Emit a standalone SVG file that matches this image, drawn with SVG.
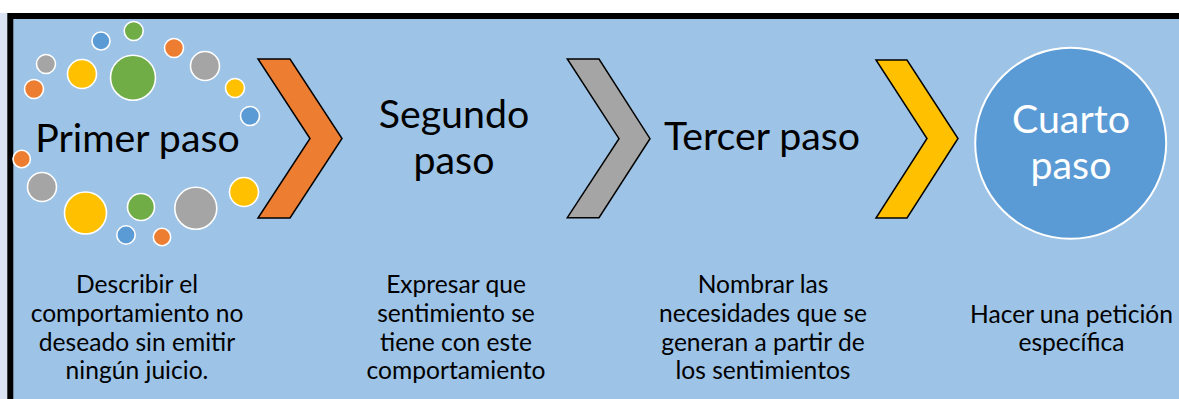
<svg xmlns="http://www.w3.org/2000/svg" width="1179" height="399" viewBox="0 0 1179 399">
<style>
  .bg{fill:#9DC3E6}
  .dot{stroke:#FFFFFF;stroke-width:1.6}
  .o{fill:#ED7D31}.g{fill:#A5A5A5}.y{fill:#FFC000}.gr{fill:#70AD47}.b{fill:#5B9BD5}
  .chev{stroke:#000000;stroke-width:1.5;stroke-linejoin:miter}
  .big{font-family:Lato,"Liberation Sans",sans-serif;font-size:39.3px;fill:#000000;text-anchor:middle}
  .small{font-family:Lato,"Liberation Sans",sans-serif;font-size:24.6px;fill:#000000;text-anchor:middle}
  .white{fill:#FFFFFF}
</style>
<rect x="0" y="0" width="1179" height="399" fill="#FFFFFF"/>
<rect x="0" y="13" width="8" height="386" fill="#DAE3F3"/>
<rect x="10.3" y="16" width="1180" height="400" class="bg" stroke="#000000" stroke-width="6"/>
<g id="step1">
  <circle class="dot gr" cx="133.7" cy="31" r="9.5"/>
  <circle class="dot b" cx="101" cy="41" r="9"/>
  <circle class="dot o" cx="174" cy="48" r="9.5"/>
  <circle class="dot g" cx="46" cy="64" r="9.5"/>
  <circle class="dot y" cx="82" cy="74" r="14.5"/>
  <circle class="dot gr" cx="133" cy="77.7" r="22.5"/>
  <circle class="dot g" cx="205" cy="66" r="14.5"/>
  <circle class="dot o" cx="34" cy="89" r="9.5"/>
  <circle class="dot y" cx="235" cy="88" r="9.5"/>
  <circle class="dot b" cx="250" cy="116" r="9.5"/>
  <circle class="dot o" cx="21.7" cy="159" r="8.7"/>
  <circle class="dot g" cx="42" cy="187" r="14.5"/>
  <circle class="dot y" cx="85.5" cy="213" r="21"/>
  <circle class="dot gr" cx="141" cy="207" r="13.5"/>
  <circle class="dot g" cx="195.8" cy="208.3" r="21"/>
  <circle class="dot y" cx="244" cy="192" r="14.5"/>
  <circle class="dot b" cx="126" cy="235" r="9.2"/>
  <circle class="dot o" cx="162" cy="237" r="8.7"/>
  <text class="big" x="137.5" y="152">Primer paso</text>
</g>
<g id="connectors">
  <polygon class="chev o" points="258,59 290,59 342,138.5 290,218 258,218 310,138.5"/>
  <polygon class="chev g" points="567.3,59 599,59 650,138.7 599,217.7 567.3,217.7 619,138.7"/>
  <polygon class="chev y" points="876,60 907,60 958,138.5 907,218 876,218 927,138.5"/>
</g>
<g id="step2">
  <text class="big" x="454" y="128">Segundo</text>
  <text class="big" x="454" y="174">paso</text>
</g>
<g id="step3">
  <text class="big" x="762" y="150">Tercer paso</text>
</g>
<g id="step4">
  <circle cx="1070.7" cy="143.3" r="95.5" fill="#5B9BD5" stroke="#FFFFFF" stroke-width="2"/>
  <text class="big white" x="1071" y="133.3">Cuarto</text>
  <text class="big white" x="1071" y="179">paso</text>
</g>
<g id="desc1">
  <text class="small" x="137" y="293.3">Describir el</text>
  <text class="small" x="137" y="322">comportamiento no</text>
  <text class="small" x="137" y="350.7">deseado sin emitir</text>
  <text class="small" x="137" y="379">ningún juicio.</text>
</g>
<g id="desc2">
  <text class="small" x="456" y="293.3">Expresar que</text>
  <text class="small" x="456" y="322">sentimiento se</text>
  <text class="small" x="456" y="350.7">tiene con este</text>
  <text class="small" x="456" y="379">comportamiento</text>
</g>
<g id="desc3">
  <text class="small" x="763" y="293.3">Nombrar las</text>
  <text class="small" x="763" y="322">necesidades que se</text>
  <text class="small" x="763" y="350.7">generan a partir de</text>
  <text class="small" x="763" y="379">los sentimientos</text>
</g>
<g id="desc4">
  <text class="small" x="1071.5" y="322.5">Hacer una petición</text>
  <text class="small" x="1071.5" y="351">específica</text>
</g>
</svg>
